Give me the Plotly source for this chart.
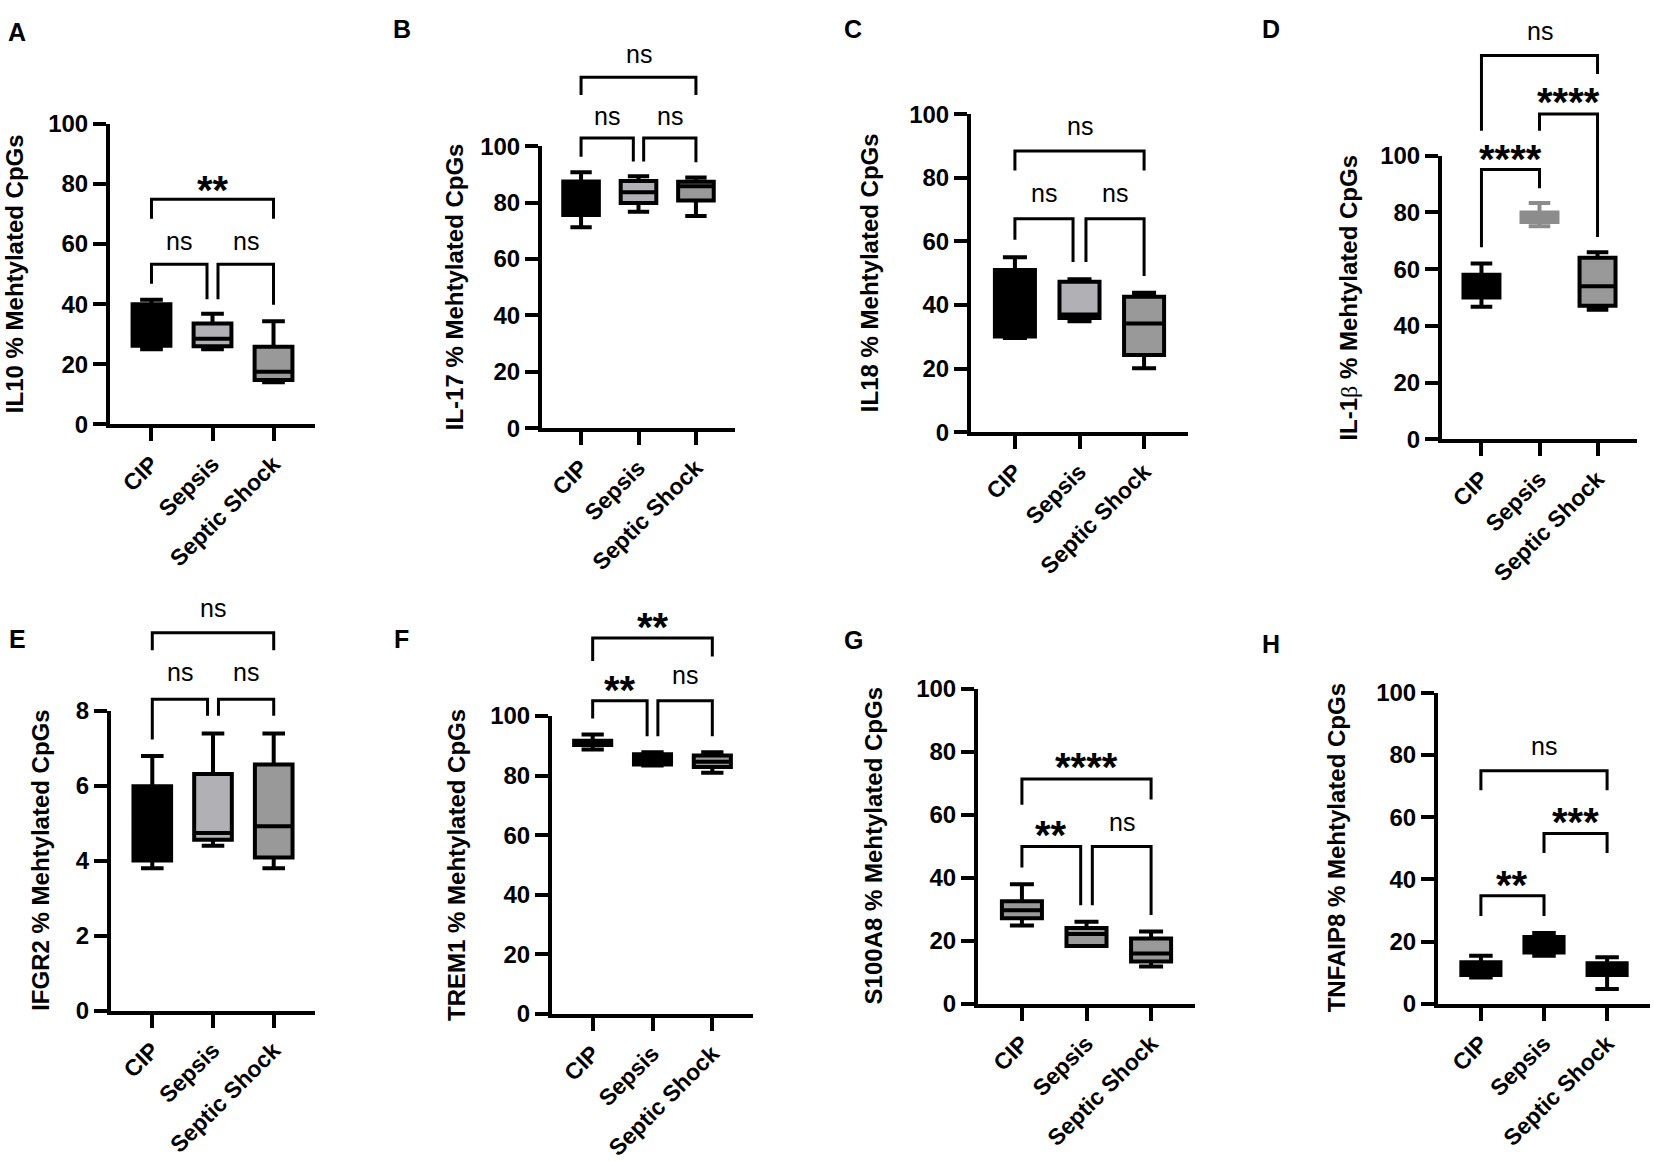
import plotly.graph_objects as go

W, H = 1654, 1161

# ---- data ----
groups = ["CIP", "Sepsis", "Septic Shock"]
letters = ["A", "B", "C", "D", "E", "F", "G", "H"]
y_titles = [
    "IL10 % Mehtylated CpGs",
    "IL-17 % Mehtylated CpGs",
    "IL18 % Mehtylated CpGs",
    "IL-1<span style='font-weight:normal;font-family:Liberation Serif'>β</span> % Mehtylated CpGs",
    "IFGR2 % Mehtylated CpGs",
    "TREM1 % Mehtylated CpGs",
    "S100A8 % Mehtylated CpGs",
    "TNFAIP8 % Mehtylated CpGs",
]
y_max = [100, 100, 100, 100, 8, 100, 100, 100]
y_step = [20, 20, 20, 20, 2, 20, 20, 20]

# per panel, per group: lower whisker, q1, median, q3, upper whisker
low = [
    [25, 25, 14], [71.3, 76.8, 75.3], [29.6, 34.9, 20.1], [46.8, 75.1, 45.7],
    [3.8, 4.4, 3.8], [88.7, 83.4, 80.9], [24.9, 18.4, 11.9], [8.5, 15.5, 4.8],
]
q1 = [
    [26.2, 26, 14.8], [75.6, 79.9, 80.8], [30.1, 35.9, 24.3], [50, 76.6, 47.1],
    [4.01, 4.56, 4.09], [90.2, 83.7, 82.9], [27.2, 18.4, 13.5], [9.3, 16.5, 9.3],
]
median = [
    [30, 28.5, 17.5], [82, 83.7, 85.8], [40, 37, 34.2], [54, 78, 54],
    [5, 4.74, 4.92], [91, 85.5, 84.6], [29.7, 22.2, 16], [11, 20, 11],
]
q3 = [
    [40, 33.6, 25.8], [87.5, 87.7, 87.4], [51, 47.3, 42.6], [58, 80, 64],
    [5.99, 6.32, 6.57], [91.7, 87.1, 86.7], [32.6, 24.1, 20.8], [13.4, 21.5, 13.1],
]
high = [
    [41.5, 36.8, 34.3], [90.8, 89.4, 88.9], [55, 48.1, 43.8], [62, 83.3, 66],
    [6.8, 7.4, 7.4], [93.8, 87.8, 87.8], [38, 26.1, 23], [15.5, 22.8, 15],
]

# significance brackets: (group a, group b, bar level, left leg end, right leg end, label, label level)
brackets = [
    [(0, 1, 53.3, 46.8, 41.6, "ns", 60.5), (1, 2, 53.3, 41.6, 39.8, "ns", 60.5),
     (0, 2, 74.9, 68.4, 68.4, "**", 81.0)],
    [(0, 1, 102.9, 96.3, 94.6, "ns", 110.1), (1, 2, 102.9, 94.6, 94.3, "ns", 110.1),
     (0, 2, 124.5, 118.2, 118.2, "ns", 132.0)],
    [(0, 1, 67.1, 60.5, 53.5, "ns", 74.5), (1, 2, 67.1, 53.5, 49.1, "ns", 74.5),
     (0, 2, 88.4, 82.3, 82.3, "ns", 95.8)],
    [(0, 1, 95.1, 67.7, 88.5, "****", 101.9), (1, 2, 114.7, 108.8, 71.3, "****", 122.0),
     (0, 2, 135.3, 108.8, 128.8, "ns", 143.1)],
    [(0, 1, 8.31, 7.24, 7.87, "ns", 8.99), (1, 2, 8.31, 7.87, 7.87, "ns", 8.99),
     (0, 2, 10.09, 9.62, 9.62, "ns", 10.69)],
    [(0, 1, 105.1, 99.1, 93.2, "**", 111.8), (1, 2, 105.1, 93.2, 93.2, "ns", 113.0),
     (0, 2, 126.1, 118.4, 119.9, "**", 133.0)],
    [(0, 1, 50.0, 43.3, 31.3, "**", 56.5), (1, 2, 50.0, 31.3, 28.2, "ns", 57.0),
     (0, 2, 71.4, 63.2, 64.9, "****", 78.1)],
    [(0, 1, 34.8, 28.3, 28.3, "**", 41.0), (1, 2, 54.8, 48.5, 48.5, "***", 61.3),
     (0, 2, 74.9, 68.7, 68.7, "ns", 82.2)],
]

# ---- styling / layout ----
fills = [
    ["#000000", "#b1b1b5", "#999999"], ["#000000", "#b1b1b5", "#999999"],
    ["#000000", "#b1b1b5", "#999999"], ["#000000", "#8c8c8c", "#999999"],
    ["#000000", "#b1b1b5", "#999999"], ["#000000", "#000000", "#999999"],
    ["#999999", "#999999", "#999999"], ["#000000", "#000000", "#000000"],
]
lines = [["#000000"] * 3 for _ in range(8)]
lines[3][1] = "#8c8c8c"
leg_gap = [0.09, 0.09, 0.1, 0, 0.09, 0.09, 0.09, 0]

# plot areas in pixels: (left, right, top, bottom)
areas = [
    (110, 315, 113, 422), (542, 735, 136, 426), (971, 1188, 103, 430), (1442, 1637, 145.7, 437.5),
    (111, 315, 716.7, 1024.9), (552, 753, 721.8, 1028.3), (978, 1195, 694, 1018), (1438, 1650, 698, 1018),
]
letter_pos = [(17, 18), (402, 15), (853, 15), (1271, 15), (17, 643), (401, 643), (853, 644), (1271, 648)]
title_x = [14, 454, 869, 1349, 41, 457, 873, 1336]
XR = [-0.68, 2.68]
FONT = "Liberation Sans"

fig = go.Figure()


def px(p, x):
    l, r, t, b = areas[p]
    return (l + (x - XR[0]) / (XR[1] - XR[0]) * (r - l)) / W


def py(p, y):
    l, r, t, b = areas[p]
    return 1 - (b - y / y_max[p] * (b - t)) / H


for p in range(8):
    ax = "" if p == 0 else str(p + 1)
    l, r, t, b = areas[p]
    for g in range(3):
        fig.add_trace(go.Box(
            x=[g], q1=[q1[p][g]], median=[median[p][g]], q3=[q3[p][g]],
            lowerfence=[low[p][g]], upperfence=[high[p][g]],
            width=0.62, whiskerwidth=0.6, boxpoints=False,
            fillcolor=fills[p][g], line=dict(color=lines[p][g], width=4),
            xaxis="x" + ax, yaxis="y" + ax, hoverinfo="skip", showlegend=False,
        ))
    fig.update_layout(**{
        "xaxis" + ax: dict(
            domain=[l / W, r / W], anchor="y" + ax, range=XR,
            tickvals=[0, 1, 2], ticktext=groups, tickangle=-45,
            showline=True, linewidth=4, linecolor="black", ticks="outside",
            ticklen=13, tickwidth=4, tickcolor="black", showgrid=False, zeroline=False,
            tickfont=dict(family=FONT, size=23, color="black", weight="bold"),
        ),
        "yaxis" + ax: dict(
            domain=[1 - b / H, 1 - t / H], anchor="x" + ax, range=[0, y_max[p]],
            tickvals=list(range(0, y_max[p] + 1, y_step[p])),
            showline=True, linewidth=4, linecolor="black", ticks="outside",
            ticklen=13, tickwidth=4, tickcolor="black", showgrid=False, zeroline=False,
            tickfont=dict(family=FONT, size=24, color="black", weight="bold"),
        ),
    })

    # y title and panel letter
    fig.add_annotation(x=title_x[p] / W, y=1 - (t + b) / 2 / H, xref="paper", yref="paper",
                       xanchor="center", yanchor="middle",
                       text=y_titles[p], textangle=-90, showarrow=False,
                       font=dict(family=FONT, size=24, color="black", weight="bold"))
    fig.add_annotation(x=letter_pos[p][0] / W, y=1 - letter_pos[p][1] / H, xref="paper", yref="paper",
                       xanchor="center", yanchor="middle",
                       text=letters[p], showarrow=False,
                       font=dict(family=FONT, size=25, color="black", weight="bold"))

    # brackets
    for a, c, top, la, lb, lab, ly in brackets[p]:
        xa, xb = a, c
        if c - a == 1:
            if a == 0:
                xb = c - leg_gap[p]
            else:
                xa = a + leg_gap[p]
        fig.add_shape(type="path", xref="paper", yref="paper",
                      path=f"M {px(p, xa)} {py(p, la)} L {px(p, xa)} {py(p, top)} "
                           f"L {px(p, xb)} {py(p, top)} L {px(p, xb)} {py(p, lb)}",
                      line=dict(color="black", width=3))
        star = lab.startswith("*")
        fig.add_annotation(x=px(p, (xa + xb) / 2), y=py(p, ly), xref="paper", yref="paper",
                           text=lab, showarrow=False, xanchor="center", yanchor="middle",
                           yshift=-9 if star else 2,
                           font=dict(family=FONT, size=40 if star else 25, color="black",
                                     weight="bold" if star else "normal"))

fig.update_layout(width=W, height=H, margin=dict(l=0, r=0, t=0, b=0),
                  plot_bgcolor="white", paper_bgcolor="white", showlegend=False,
                  boxmode="overlay")

fig.write_html("out.html", config={"displayModeBar": False},
               post_script="document.body.style.margin='0';")
